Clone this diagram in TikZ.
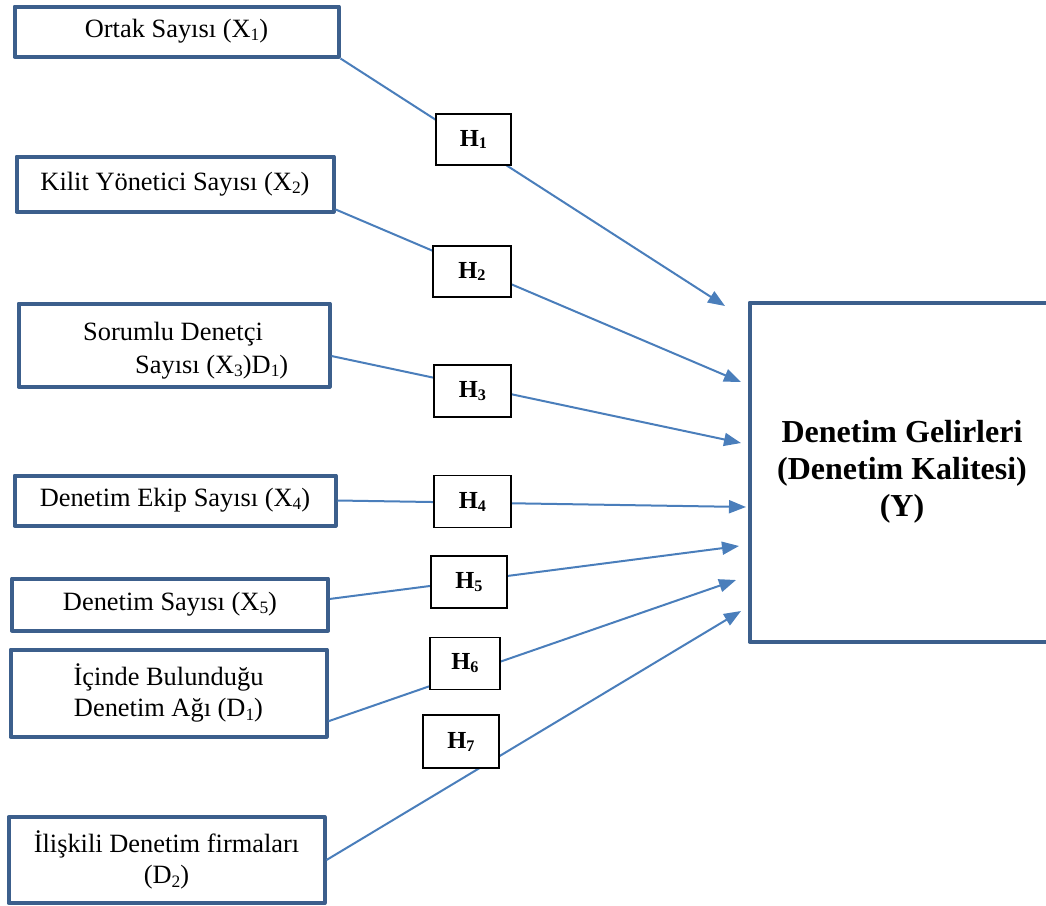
\documentclass[tikz,border=0pt]{standalone}
\usepackage{fontspec}
\usepackage{graphicx}
\setmainfont{Liberation Serif}
\usetikzlibrary{arrows.meta}
\definecolor{boxblue}{RGB}{60,95,140}
\definecolor{linkblue}{RGB}{74,126,187}
\newcommand\mysub[1]{\raisebox{-0.12em}{\scalebox{0.66}{#1}}}
\begin{document}
\begin{tikzpicture}[x=1pt,y=-1pt,
  src/.style={draw=boxblue, line width=4pt, line join=round, inner sep=0pt, fill=white,
    font=\fontsize{26.4}{31.7}\selectfont, align=center},
  srctext/.style={inner sep=0pt, font=\fontsize{26.4}{31.7}\selectfont},
  target/.style={draw=boxblue, line width=4pt, line join=round, inner sep=0pt, fill=white,
    font=\fontsize{32}{37}\selectfont\bfseries, align=center},
  hyp/.style={draw=black, line width=1.2pt, fill=white, inner sep=0pt,
    font=\fontsize{24.5}{28}\selectfont\bfseries},
  link/.style={draw=linkblue, line width=2pt, -{Triangle[length=17pt,width=13pt]}},
]
\useasboundingbox (0,0) rectangle (1046,905);

% source boxes
\node[src, minimum width=324, minimum height=50] (b1) at (176.5,31.5) {Ortak Sayısı (X\mysub{1})};
\node[src, minimum width=317, minimum height=55] (b2) at (175,184) {Kilit Yönetici Sayısı (X\mysub{2})};
\node[src, minimum width=311, minimum height=83] (b3) at (174,345) {};
\node[srctext, anchor=base west] (b3l1) at (83,340) {Sorumlu Denetçi};
\node[srctext, anchor=base west] (b3l2) at (135,373) {Sayısı (X\mysub{3})D\mysub{1})};
\node[src, minimum width=321, minimum height=50] (b4) at (175,500.5) {Denetim Ekip Sayısı (X\mysub{4})};
\node[src, minimum width=316, minimum height=52] (b5) at (170,604.5) {Denetim Sayısı (X\mysub{5})};
\node[src, minimum width=316, minimum height=87] (b6) at (168.5,693) {İçinde Bulunduğu\\Denetim Ağı (D\mysub{1})};
\node[src, minimum width=316, minimum height=86] (b7) at (166.5,860) {İlişkili Denetim firmaları\\(D\mysub{2})};

% target box
\node[target, minimum width=305, minimum height=339] (y) at (902,472) {Denetim Gelirleri\\(Denetim Kalitesi)\\(Y)};

% arrow tips
\coordinate (t1) at (725,306);
\coordinate (t2) at (741,382);
\coordinate (t3) at (741,443);
\coordinate (t4) at (746,507);
\coordinate (t5) at (739,546);
\coordinate (t6) at (736,580);
\coordinate (t7) at (741,611);

% connectors
\draw[link] (b1.south east) -- (t1);
\draw[link] (b2.-9) -- (t2);
\draw[link] (b3.-4) -- (t3);
\draw[link] (b4.east) -- (t4);
\draw[link] (b5.2) -- (t5);
\draw[link] (b6.-10) -- (t6);
\draw[link] (b7.east) -- (t7);

% hypothesis boxes
\node[hyp, minimum width=75, minimum height=51] (h1) at (473.5,139.5) {H\mysub{1}};
\node[hyp, minimum width=78, minimum height=51] (h2) at (472,271.5) {H\mysub{2}};
\node[hyp, minimum width=77, minimum height=52] (h3) at (472.5,391) {H\mysub{3}};
\node[hyp, minimum width=77, minimum height=52] (h4) at (472.5,501.5) {H\mysub{4}};
\node[hyp, minimum width=76, minimum height=52] (h5) at (469,582) {H\mysub{5}};
\node[hyp, minimum width=70, minimum height=52] (h6) at (465,663.5) {H\mysub{6}};
\node[hyp, minimum width=76, minimum height=53] (h7) at (461,741.5) {H\mysub{7}};
\end{tikzpicture}
\end{document}
